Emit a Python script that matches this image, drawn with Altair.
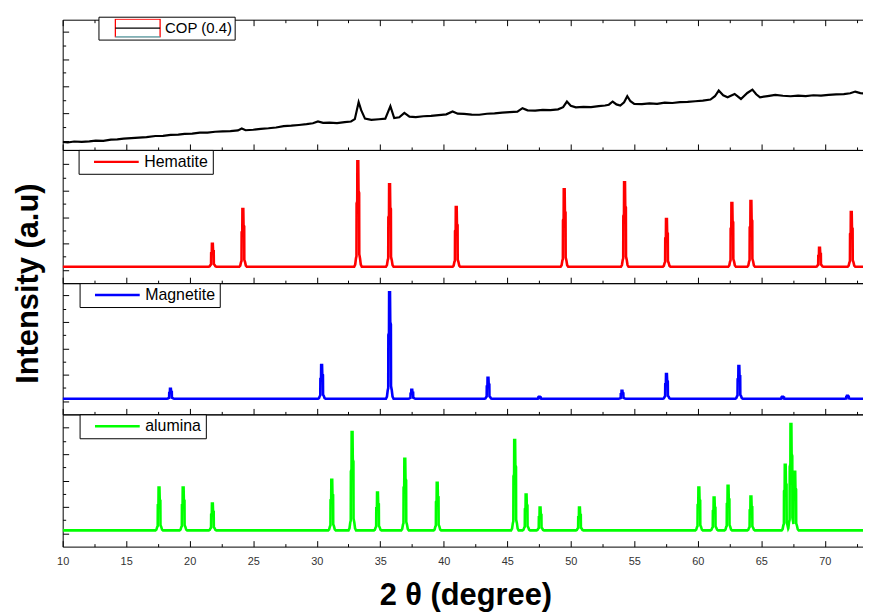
import altair as alt
import numpy as np
import pandas as pd

# ---------------- data ----------------
X_DOMAIN = [10, 73.4]
PLOT_W = 810
PANEL_H = [131, 134, 132, 133]

# COP (0.4) measured pattern (x in degrees, intensity in arbitrary units)
cop_x = [10.0, 10.4, 10.9, 11.5, 12.1, 12.6, 13.2, 13.8, 14.3, 14.8,
         15.4, 16.0, 16.6, 17.3, 17.9, 18.5, 19.1, 19.6, 20.2, 20.8,
         21.4, 22.0, 22.6, 23.2, 23.8, 24.1, 24.4, 25.0, 25.6, 26.2,
         26.8, 27.4, 28.0, 28.6, 29.2, 29.7, 30.1, 30.5, 31.0, 31.6,
         32.2, 32.7, 33.0, 33.3, 33.5, 33.8, 34.3, 34.9, 35.4, 35.8,
         36.1, 36.5, 36.9, 37.3, 37.8, 38.4, 39.0, 39.6, 40.2, 40.7,
         41.1, 41.6, 42.2, 42.8, 43.4, 44.0, 44.6, 45.2, 45.8, 46.2,
         46.6, 47.2, 47.8, 48.4, 49.0, 49.4, 49.7, 50.0, 50.4, 51.0,
         51.6, 52.2, 52.7, 53.0, 53.3, 53.6, 53.9, 54.2, 54.45, 54.7,
         55.0, 55.6, 56.2, 56.8, 57.4, 58.0, 58.6, 59.2, 59.8, 60.4,
         61.0, 61.35, 61.65, 62.0, 62.35, 62.9, 63.4, 63.9, 64.3, 64.6,
         64.9, 65.5, 66.1, 66.7, 67.3, 67.9, 68.5, 69.1, 69.7, 70.3,
         70.9, 71.5, 72.0, 72.4, 72.8, 73.4]
cop_y = [8.0, 7.5, 8.5, 8.2, 8.7, 9.4, 9.2, 10.3, 10.6, 11.3,
         11.9, 12.4, 12.9, 14.0, 14.2, 15.1, 15.4, 16.2, 16.5, 17.4,
         17.5, 18.3, 18.7, 19.0, 19.6, 21.5, 19.8, 20.3, 21.2, 21.8,
         22.6, 23.9, 24.4, 25.1, 25.9, 26.8, 28.7, 27.2, 27.4, 27.0,
         28.0, 28.6, 31.0, 48.0, 40.0, 31.5, 30.2, 30.9, 31.5, 44.0,
         32.0, 32.8, 37.3, 33.5, 33.0, 33.9, 34.2, 35.0, 35.8, 38.7,
         36.5, 36.2, 35.6, 35.4, 36.4, 36.8, 37.5, 38.0, 38.6, 42.0,
         39.8, 39.6, 40.3, 40.0, 40.8, 43.0, 48.7, 44.5, 42.8, 43.3,
         43.0, 44.0, 44.7, 45.5, 48.7, 45.8, 44.7, 48.0, 54.0, 49.0,
         46.3, 46.0, 46.8, 46.3, 47.5, 47.2, 48.1, 48.4, 49.0, 49.6,
         50.7, 54.0, 59.7, 55.0, 53.0, 56.3, 51.3, 57.3, 60.7, 56.0,
         53.0, 54.2, 55.3, 54.5, 54.0, 54.6, 54.2, 55.0, 54.7, 55.4,
         55.8, 56.2, 57.0, 58.7, 57.2, 56.3]

# Reference patterns: peak positions (deg), peak heights and baseline (a.u.)
hem_pos = [21.8, 24.2, 33.25, 35.75, 41.0, 49.5, 54.25, 57.55, 62.7, 64.2, 69.6, 72.1]
hem_h = [23, 58, 106, 83, 60, 78, 85, 48, 64, 66, 19, 55]
hem_base = 16.5

mag_pos = [18.5, 30.4, 35.75, 37.5, 43.5, 47.55, 54.05, 57.55, 63.25, 66.7, 71.8]
mag_h = [10, 34, 107, 9, 21, 2, 8, 25, 33, 2, 3]
mag_base = 15.7

alu_pos = [17.6, 19.5, 21.8, 31.2, 32.8, 34.8, 36.95, 39.5, 45.6, 46.5,
           47.6, 50.7, 60.1, 61.3, 62.4, 64.2, 66.9, 67.35, 67.65, 73.35]
alu_h = [43, 43, 27, 51, 99, 38, 72, 48, 91, 36,
         23, 23, 43, 33, 45, 34, 66, 107, 59, 22]
alu_base = 16.3

# shape of one reflection (Ka1/Ka2 doublet)
profile_dx = [-0.30, -0.22, -0.16, -0.12, -0.11, -0.06, -0.05, 0.02, 0.04, 0.09, 0.10, 0.16, 0.22, 0.30]
profile_f = [0, 0.02, 0.08, 0.10, 0.60, 0.62, 1.0, 1.0, 0.72, 0.70, 0.12, 0.08, 0.02, 0]

series_names = ["COP (0.4)", "Hematite", "Magnetite", "alumina"]
series_colors = ["black", "#ff0000", "#0000ff", "#00ff00"]
cop_symbol_colors = ["#ff0000", "black", "#00e5ee"]

x_ticks = [10 + 2.5 * i for i in range(26)]
x_labels = list(range(10, 71, 5))
y_ticks = [13.3 * k for k in range(1, 10)]
cop_y_ticks = [9, 23, 37, 50.5, 64, 77.5, 91.5, 105, 119]


def pattern(pos, heights, base, name):
    xs = sorted(set([X_DOMAIN[0], X_DOMAIN[1] + 0.5] +
                    [p + d for p in pos for d in profile_dx]))
    xs = np.array(xs)
    env = np.zeros_like(xs)
    for p, h in zip(pos, heights):
        env = np.maximum(env, h * np.interp(xs - p, profile_dx, profile_f, left=0, right=0))
    return pd.DataFrame({"x": xs, "y": base + env, "series": name})


cop_df = pd.DataFrame({"x": cop_x, "y": cop_y, "series": series_names[0]})
hem_df = pattern(hem_pos, hem_h, hem_base, series_names[1])
mag_df = pattern(mag_pos, mag_h, mag_base, series_names[2])
alu_df = pattern(alu_pos, alu_h, alu_base, series_names[3])

FONT = "Liberation Sans"
X_COND = {"condition": {"test": "datum.value % 5 === 0", "value": 6}, "value": 3}


def y_cond(step, start):
    return {"condition": {"test": f"round((datum.value - {start}) / {step}) % 2 === 0", "value": 6},
            "value": 3}


def xscale():
    return alt.Scale(domain=X_DOMAIN, nice=False, zero=False)


def x_tick_axis(orient, h):
    return alt.Axis(orient=orient, offset=-h, values=x_ticks, labels=False, domain=False,
                    grid=False, title=None, ticks=True, tickColor="black", tickWidth=1,
                    tickSize=X_COND)


def y_tick_axis(values, cond):
    return alt.Axis(orient="right", offset=-PLOT_W, values=values, labels=False, domain=False,
                    grid=False, title=None, ticks=True, tickColor="black", tickWidth=1,
                    tickSize=cond)


def legend(lx, ly, **kw):
    opts = dict(orient="none", legendX=lx, legendY=ly, title=None, strokeColor="black",
                fillColor="white", padding=4, symbolType="stroke", symbolSize=2025,
                symbolStrokeWidth=2.5, labelFont=FONT, labelFontSize=16, labelColor="black",
                labelOffset=4, clipHeight=16, symbolOffset=10)
    opts.update(kw)
    return alt.Legend(**opts)


def yscale(h):
    return alt.Scale(domain=[0, h], nice=False, zero=False)


def main_line(df, idx, h, yvals, ycond, leg, sw=2.6):
    color = (alt.Color("series:N",
                       scale=alt.Scale(domain=[series_names[idx]], range=[series_colors[idx]]),
                       legend=leg)
             if leg is not None else alt.value(series_colors[idx]))
    return alt.Chart(df).mark_line(strokeWidth=sw, clip=True).encode(
        x=alt.X("x:Q", scale=xscale(), axis=x_tick_axis("top", h)),
        y=alt.Y("y:Q", scale=yscale(h), axis=y_tick_axis(yvals, ycond)),
        color=color,
    ).properties(width=PLOT_W, height=h)


def dummy(df, h, xaxis, yaxis, color=None):
    enc = dict(
        x=alt.X("x:Q", scale=xscale(), axis=xaxis),
        y=alt.Y("y:Q", scale=yscale(h), axis=yaxis),
    )
    if color is not None:
        enc["color"] = color
    return alt.Chart(df).mark_line(opacity=0, clip=True).encode(**enc).properties(
        width=PLOT_W, height=h)


h1, h2, h3, h4 = PANEL_H

# COP legend symbol: red frame, black centre line, cyan lower edge
cop_leg_common = dict(labelFontSize=15, symbolOpacity=1, clipHeight=19, padding=2,
                      symbolOffset=14)
cop_leg_layers = []
for i, (col, sym) in enumerate(zip(
        cop_symbol_colors,
        ["M-1,-0.4L1,-0.4L1,0.4L-1,0.4Z", "M-1,0L1,0", "M-1,0.4L1,0.4"])):
    extra = {} if i == 0 else dict(strokeColor="transparent", fillColor="transparent",
                                   labelOpacity=0)
    leg = legend(36, -3, symbolType=sym, symbolStrokeWidth=1.3, **cop_leg_common, **extra)
    cop_leg_layers.append(
        dummy(cop_df, h1, None, None,
              color=alt.Color("series:N", scale=alt.Scale(domain=[series_names[0]], range=[col]),
                              legend=leg)))

p1 = alt.layer(
    main_line(cop_df, 0, h1, cop_y_ticks, y_cond(13.75, 9), None, sw=2.2),
    dummy(cop_df, h1, x_tick_axis("bottom", h1), None),
    *cop_leg_layers,
).resolve_axis(x="independent", y="independent").resolve_scale(color="independent").resolve_legend(
    color="independent")

p2 = alt.layer(
    main_line(hem_df, 1, h2, y_ticks, y_cond(13.3, 13.3), legend(16, 0)),
    dummy(hem_df, h2, None,
          alt.Axis(orient="left", title="Intensity (a.u)", ticks=False, labels=False,
                   domain=False, grid=False, titleFont=FONT, titleFontSize=31,
                   titleFontWeight="bold", titleColor="black", titleAngle=270,
                   titleAlign="center", titleBaseline="middle", titleX=-34, titleY=134)),
).resolve_axis(x="independent", y="independent")

p3 = main_line(mag_df, 2, h3, y_ticks, y_cond(13.3, 13.3), legend(17, 0))

p4 = alt.layer(
    main_line(alu_df, 3, h4, y_ticks, y_cond(13.3, 13.3), legend(17, 0)),
    dummy(alu_df, h4,
          alt.Axis(orient="bottom", values=x_labels, ticks=False, domain=False, grid=False,
                   labelFont=FONT, labelFontSize=11, labelColor="#333333", labelPadding=9,
                   labelFlush=False, title="2 θ (degree)", titleFont=FONT, titleFontSize=31,
                   titleFontWeight="bold", titleColor="black", titlePadding=14),
          None),
).resolve_axis(x="independent", y="independent")

chart = alt.vconcat(p1, p2, p3, p4, spacing=0, bounds="flush").resolve_scale(
    x="independent", y="independent", color="independent"
).resolve_legend(color="independent").resolve_axis(
    x="independent", y="independent"
).properties(
    padding={"left": 4, "top": 6, "right": -6, "bottom": 0}
).configure_view(stroke="black", strokeWidth=1)

chart.save("out.html", embed_options={"renderer": "svg", "actions": False})
